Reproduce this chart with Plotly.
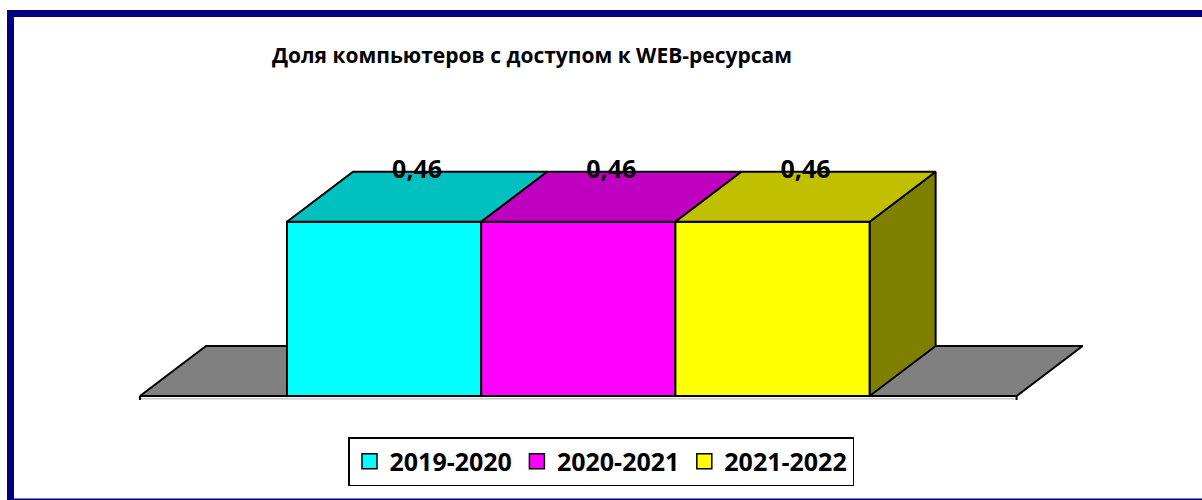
import plotly.graph_objects as go

# ---- data ----
categories = ["2019-2020", "2020-2021", "2021-2022"]
values = [0.46, 0.46, 0.46]
value_labels = ["0,46", "0,46", "0,46"]
title_text = "Доля компьютеров с доступом к WEB-ресурсам"

# ---- style ----
front_colors = ["#00FFFF", "#FF00FF", "#FFFF00"]
top_colors = ["#00C0C0", "#C000C0", "#C0C000"]
side_colors = ["#008080", "#800080", "#808000"]
FONT = "Open Sans, Noto Sans, Arial, sans-serif"

DX = 0.34        # 3D depth offset (category units)
DY = 0.132       # 3D depth offset (value units)
FLOOR_EXT = 0.757
BAR_W = 1.0

W, H = 1202, 500
L, R, T, B = 130, 102, 150, 100
PW, PH = W - L - R, H - T - B


def px(x):
    return (x - L) / PW


def py(y):
    return (H - B - y) / PH


fig = go.Figure()


def poly(xs, ys, color):
    fig.add_trace(go.Scatter(
        x=xs + [xs[0]], y=ys + [ys[0]], mode="lines", fill="toself",
        fillcolor=color, line=dict(color="black", width=2),
        hoverinfo="skip", showlegend=False))


n = len(categories)
fx0 = -FLOOR_EXT
fx1 = n * BAR_W + FLOOR_EXT

# faint category axis line under the floor, with end ticks
fig.add_trace(go.Scatter(
    x=[fx0, fx1], y=[-0.007, -0.007], mode="lines",
    line=dict(color="#C8C8C8", width=1.5), hoverinfo="skip", showlegend=False))
fig.add_trace(go.Scatter(
    x=[fx0, fx0, None, fx1, fx1], y=[0, -0.011, None, 0, -0.011], mode="lines",
    line=dict(color="black", width=2), hoverinfo="skip", showlegend=False))

poly([fx0, fx1, fx1 + DX, fx0 + DX], [0, 0, DY, DY], "#808080")

for i, v in enumerate(values):
    x0 = i * BAR_W
    x1 = x0 + BAR_W
    poly([x1, x1 + DX, x1 + DX, x1], [0, DY, v + DY, v], side_colors[i])
    poly([x0, x1, x1, x0], [0, 0, v, v], front_colors[i])
    poly([x0, x1, x1 + DX, x0 + DX], [v, v, v + DY, v + DY], top_colors[i])

fig.add_trace(go.Scatter(
    x=[i * BAR_W + BAR_W / 2 + DX / 2 for i in range(n)],
    y=[v + DY for v in values],
    mode="text", text=["<b>%s</b>" % t for t in value_labels],
    textposition="middle center",
    textfont=dict(family=FONT, size=25, color="black"),
    hoverinfo="skip", showlegend=False))

for c, col in zip(categories, front_colors):
    fig.add_trace(go.Scatter(
        x=[None], y=[None], mode="markers", name="<b>%s</b>" % c,
        marker=dict(symbol="square", size=15, color=col,
                    line=dict(color="black", width=1.5))))

x_lo = -(287 - L) / 194.2
x_hi = x_lo + PW / 194.2
y_per = 174.3 / 0.46
y_lo = -(H - B - 396) / y_per
y_hi = y_lo + PH / y_per

fig.update_layout(
    width=W, height=H,
    margin=dict(l=L, r=R, t=T, b=B),
    paper_bgcolor="white", plot_bgcolor="white",
    xaxis=dict(range=[x_lo, x_hi], visible=False, fixedrange=True),
    yaxis=dict(range=[y_lo, y_hi], visible=False, fixedrange=True),
    showlegend=True,
    legend=dict(
        orientation="h", x=px(601), xanchor="center", y=py(437), yanchor="top",
        bordercolor="black", borderwidth=1.5, bgcolor="white",
        font=dict(family=FONT, size=25, color="black"),
        itemwidth=30,
    ),
    annotations=[dict(
        text="<b>%s</b>" % title_text, xref="paper", yref="paper",
        x=px(531.5), y=py(55), xanchor="center", yanchor="middle",
        showarrow=False, font=dict(family=FONT, size=21, color="black"))],
    shapes=[dict(
        type="rect", xref="paper", yref="paper", layer="above",
        x0=px(10.5), x1=px(1215), y0=py(13.5), y1=py(502),
        line=dict(color="#000080", width=7), fillcolor="rgba(0,0,0,0)")],
)

fig.write_html("out.html",
               config={"displayModeBar": False},
               post_script="document.body.style.margin='0';")
